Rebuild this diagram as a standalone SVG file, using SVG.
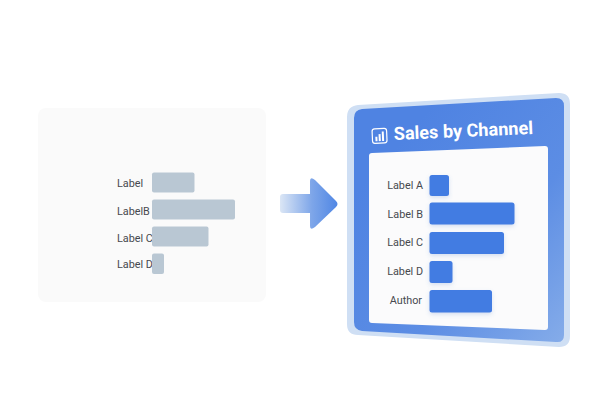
<svg xmlns="http://www.w3.org/2000/svg" width="612" height="408" viewBox="0 0 612 408">
<style>
text{font-family:Roboto,"Liberation Sans",sans-serif}
.l{font-size:10.800px;fill:#46494e}
.r{text-anchor:end}
.g{fill:#b9c7d3}
.b{fill:#437be2;filter:url(#sh)}
</style>
<defs>
<linearGradient id="ag" x1="280" y1="0" x2="338" y2="0" gradientUnits="userSpaceOnUse"><stop offset="0" stop-color="#dbe6f5"/><stop offset=".55" stop-color="#7ea6e9"/><stop offset="1" stop-color="#4f86e4"/></linearGradient>
<linearGradient id="pg" x1="0.2" y1="0.2" x2="1" y2="1"><stop offset="0" stop-color="#4f83e2"/><stop offset=".55" stop-color="#5c8de4"/><stop offset="1" stop-color="#85ace9"/></linearGradient>
<filter id="sh" x="-20%" y="-30%" width="140%" height="170%"><feDropShadow dx="0" dy="2" stdDeviation="2" flood-color="#4a78c8" flood-opacity=".22"/></filter>
</defs>
<rect width="612" height="408" fill="#fff"/>
<g id="before">
<rect x="38" y="108" width="228" height="194" rx="8" fill="#fafafa"/>
<text class="l" x="117" y="187">Label</text>
<text class="l" x="117" y="214.500">LabelB</text>
<text class="l" x="117" y="241.500">Label C</text>
<text class="l" x="117" y="268">Label D</text>
<rect class="g" x="152" y="172.500" width="42.500" height="20" rx="2"/>
<rect class="g" x="152" y="199.500" width="83" height="20" rx="2"/>
<rect class="g" x="152" y="226.500" width="56.500" height="20" rx="2"/>
<rect class="g" x="152" y="253.500" width="12" height="20.500" rx="2"/>
</g>
<g id="connectors">
<path d="M283 194H310V181Q310 176 315 180L336 201Q339 204 336 207L315 227Q310 231 310 226V213H283Q280 213 280 210V197Q280 194 283 194Z" fill="url(#ag)"/>
</g>
<g id="after">
<path d="M347 117Q347 106 358 105L559 93Q570 93 570 104V336Q570 347 559 347L358 335Q347 335 347 324Z" fill="#cfdff4"/>
<path d="M354 118Q354 110 362 109L556 98Q564 98 564 106V335Q564 343 556 342L362 331Q354 330 354 322Z" fill="url(#pg)"/>
<path d="M372 153L545 146Q548 146 548 149V327Q548 330 545 330L372 323Q369 323 369 320V156Q369 153 372 153Z" fill="#fbfbfc"/>
<g id="title" transform="rotate(-2.500 394 140)">
<rect x="372.500" y="128" width="14.500" height="14.500" rx="2.500" fill="none" stroke="#fff" stroke-width="1.200"/>
<rect x="375.500" y="136" width="2" height="4.500" fill="#fff"/><rect x="378.800" y="133.500" width="2" height="7" fill="#fff"/><rect x="382.100" y="131" width="2" height="9.500" fill="#fff"/>
<text x="394" y="140" font-size="18.100" font-weight="700" fill="#fff">Sales by Channel</text>
</g>
<text class="l r" x="423" y="189">Label A</text>
<text class="l r" x="423" y="218">Label B</text>
<text class="l r" x="423" y="246">Label C</text>
<text class="l r" x="423" y="275">Label D</text>
<text class="l r" x="422" y="304">Author</text>
<rect class="b" x="429.500" y="175" width="19.500" height="21" rx="2.500"/>
<rect class="b" x="429.500" y="202.500" width="85" height="22" rx="2.500"/>
<rect class="b" x="429.500" y="232" width="74.500" height="22" rx="2.500"/>
<rect class="b" x="429.500" y="261" width="23" height="22" rx="2.500"/>
<rect class="b" x="429.500" y="290" width="62.500" height="22.500" rx="2.500"/>
</g>
</svg>
